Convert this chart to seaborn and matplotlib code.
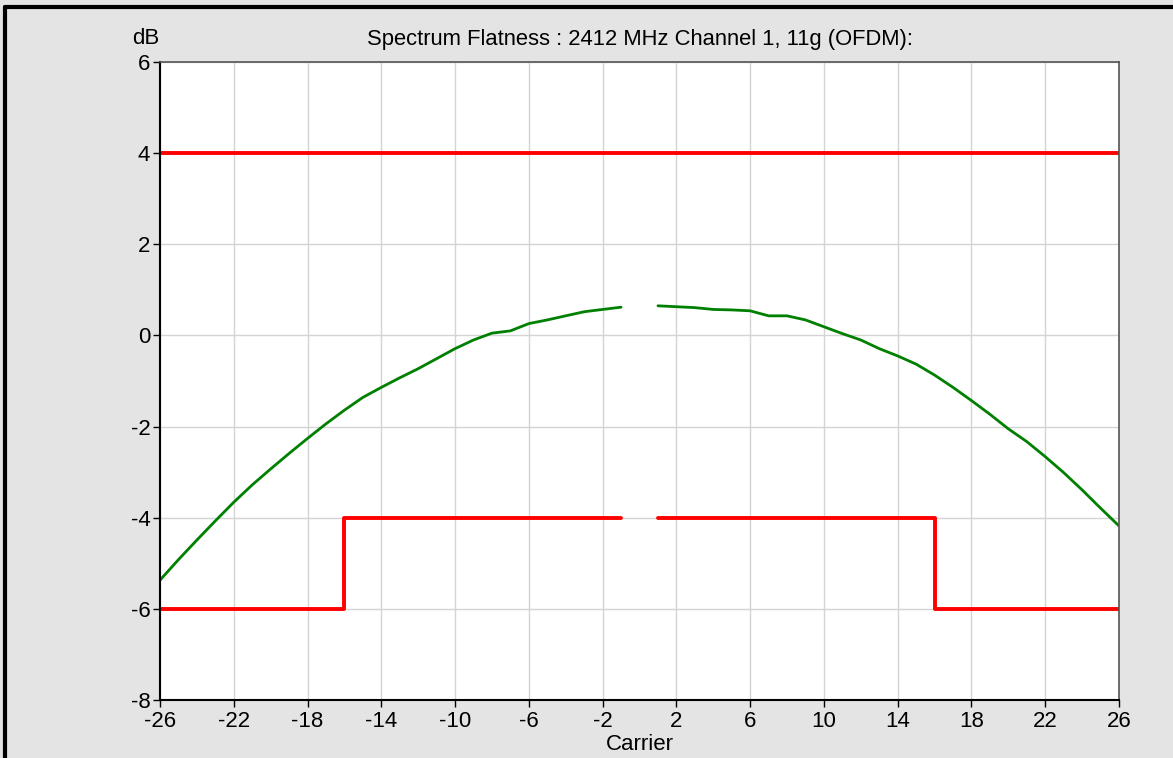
import numpy as np
import pandas as pd
import seaborn as sns
import matplotlib.pyplot as plt
from matplotlib.lines import Line2D

# measured flatness (dB) per carrier, DC carrier 0 missing
carriers_left = list(range(-26, 0))
flat_left = [-5.37, -4.92, -4.49, -4.07, -3.66, -3.28, -2.93, -2.59, -2.26, -1.94,
             -1.64, -1.36, -1.14, -0.93, -0.73, -0.51, -0.29, -0.10, 0.05, 0.10,
             0.26, 0.34, 0.43, 0.52, 0.57, 0.62]
carriers_right = list(range(1, 27))
flat_right = [0.65, 0.63, 0.61, 0.57, 0.56, 0.54, 0.43, 0.43, 0.34, 0.19,
              0.04, -0.10, -0.29, -0.45, -0.63, -0.87, -1.14, -1.43, -1.73, -2.05,
              -2.33, -2.66, -3.01, -3.39, -3.79, -4.18]

# limit masks
upper_x = [-26, 26]
upper_y = [4, 4]
lower_left_x = [-26, -16, -16, -1]
lower_left_y = [-6, -6, -4, -4]
lower_right_x = [1, 16, 16, 26]
lower_right_y = [-4, -4, -6, -6]

sns.set_theme(style="white")
plt.rcParams['font.family'] = ['Liberation Sans', 'DejaVu Sans']
plt.rcParams['axes.unicode_minus'] = False
plt.rcParams['text.color'] = 'black'
plt.rcParams['xtick.color'] = 'black'
plt.rcParams['ytick.color'] = 'black'
plt.rcParams['axes.labelcolor'] = 'black'

df_meas = pd.DataFrame({
    'Carrier': carriers_left + carriers_right,
    'dB': flat_left + flat_right,
    'seg': ['L'] * len(carriers_left) + ['R'] * len(carriers_right),
})
df_mask = pd.DataFrame({
    'Carrier': upper_x + lower_left_x + lower_right_x,
    'dB': upper_y + lower_left_y + lower_right_y,
    'seg': ['U'] * len(upper_x) + ['LL'] * len(lower_left_x) + ['LR'] * len(lower_right_x),
})

fig = plt.figure(figsize=(11.73, 7.58), dpi=100)
fig.patch.set_facecolor('#e4e4e4')
ax = fig.add_axes([160 / 1173, 58 / 758, 959 / 1173, 638 / 758])
ax.set_facecolor('white')

sns.lineplot(data=df_mask, x='Carrier', y='dB', units='seg', estimator=None,
             sort=False, color='#ff0000', lw=2.8, ax=ax)
sns.lineplot(data=df_meas, x='Carrier', y='dB', units='seg', estimator=None,
             color='#008000', lw=2, ax=ax)

ax.set_xlim(-26, 26)
ax.set_ylim(-8, 6)
ax.set_xticks(np.arange(-26, 27, 4))
ax.set_yticks(np.arange(-8, 7, 2))
ax.grid(True, color='#d4d4d4', lw=1)
ax.set_axisbelow(True)
ax.tick_params(axis='both', direction='out', length=5, width=1, color='black',
               labelsize=16, pad=2, bottom=True, left=True)
ax.tick_params(axis='x', pad=3)

for side in ['left', 'bottom']:
    ax.spines[side].set_color('black')
    ax.spines[side].set_linewidth(1.5)
for side in ['top', 'right']:
    ax.spines[side].set_color('#555555')
    ax.spines[side].set_linewidth(1.2)

ax.set_xlabel('Carrier', fontsize=16, labelpad=1)
ax.set_ylabel('')
ax.set_title('Spectrum Flatness : 2412 MHz Channel 1, 11g (OFDM):', fontsize=15.8, pad=12)
ax.text(-0.015, 1.02, 'dB', transform=ax.transAxes, ha='center', va='bottom', fontsize=16)

# outer frame of the window (top and left edges)
fig.add_artist(Line2D([5 / 1173, 1], [1 - 7 / 758, 1 - 7 / 758], color='black', lw=3,
                      transform=fig.transFigure))
fig.add_artist(Line2D([5 / 1173, 5 / 1173], [0, 1 - 7 / 758], color='black', lw=3,
                      transform=fig.transFigure))

fig.savefig('out.png', dpi=100, facecolor=fig.get_facecolor())
